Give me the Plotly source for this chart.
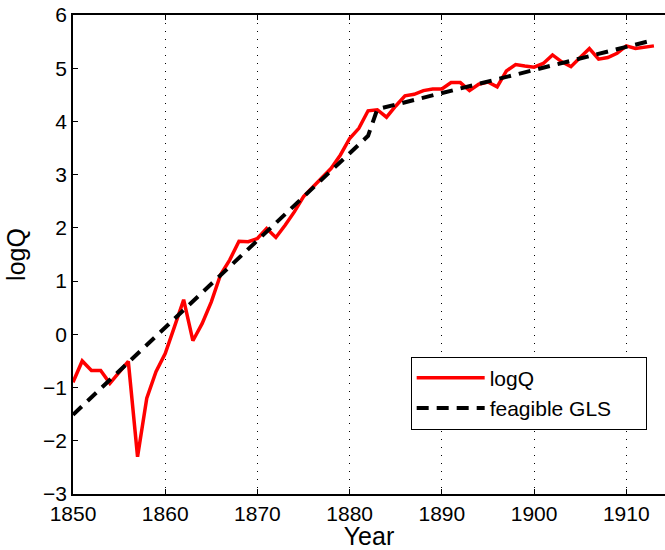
import plotly.graph_objects as go

years = list(range(1850, 1914))
logQ = [-0.90, -0.50, -0.68, -0.68, -0.92, -0.72, -0.51, -2.30, -1.20, -0.70,
        -0.36, 0.14, 0.65, -0.12, 0.20, 0.61, 1.12, 1.40, 1.75, 1.74,
        1.80, 1.99, 1.82, 2.05, 2.30, 2.59, 2.77, 2.93, 3.12, 3.37,
        3.68, 3.87, 4.20, 4.22, 4.08, 4.29, 4.48, 4.51, 4.58, 4.61,
        4.61, 4.73, 4.73, 4.58, 4.70, 4.74, 4.65, 4.95, 5.07, 5.04,
        5.02, 5.09, 5.25, 5.12, 5.03, 5.20, 5.37, 5.17, 5.20, 5.28,
        5.42, 5.37, 5.39, 5.42]

gls_years = [1850, 1882, 1883, 1913]
gls_vals = [-1.51, 3.73, 4.23, 5.53]

xticks = [1850, 1860, 1870, 1880, 1890, 1900, 1910]
yticks = [-3, -2, -1, 0, 1, 2, 3, 4, 5, 6]

font = "Liberation Sans, Arial, Helvetica, sans-serif"

fig = go.Figure()
fig.add_trace(go.Scatter(x=years, y=logQ, mode="lines", name="logQ",
                         line=dict(color="#ff0000", width=3.5)))
fig.add_trace(go.Scatter(x=gls_years, y=gls_vals, mode="lines",
                         name="feagible GLS\u00a0\u00a0\u00a0\u00a0\u00a0",
                         line=dict(color="black", width=4, dash="12px,8px")))

fig.update_layout(
    width=665, height=550,
    margin=dict(l=73, r=0, t=15, b=56),
    paper_bgcolor="white", plot_bgcolor="white",
    font=dict(family=font, size=21, color="black"),
    showlegend=True,
    legend=dict(x=0.5704, y=0.287, xanchor="left", yanchor="top",
                bgcolor="white", bordercolor="black", borderwidth=1,
                font=dict(size=21), itemwidth=68),
    xaxis=dict(range=[1850, 1914.2], tickvals=xticks, ticks="inside", ticklen=5,
               tickcolor="black", showline=True, linecolor="black", linewidth=1.5,
               mirror="ticks", showgrid=True, gridcolor="black", gridwidth=1,
               griddash="1px,7px", zeroline=False,
               title=dict(text="Year", standoff=0)),
    yaxis=dict(range=[-3, 6], tickvals=yticks, ticks="inside", ticklen=5,
               tickcolor="black", showline=True, linecolor="black", linewidth=1.5,
               mirror=False, showgrid=False, zeroline=False,
               ticklabeloverflow="allow",
               title=dict(text="logQ", standoff=10)),
)

fig.write_html("out.html", config={"displayModeBar": False},
               post_script="document.body.style.margin='0';")
